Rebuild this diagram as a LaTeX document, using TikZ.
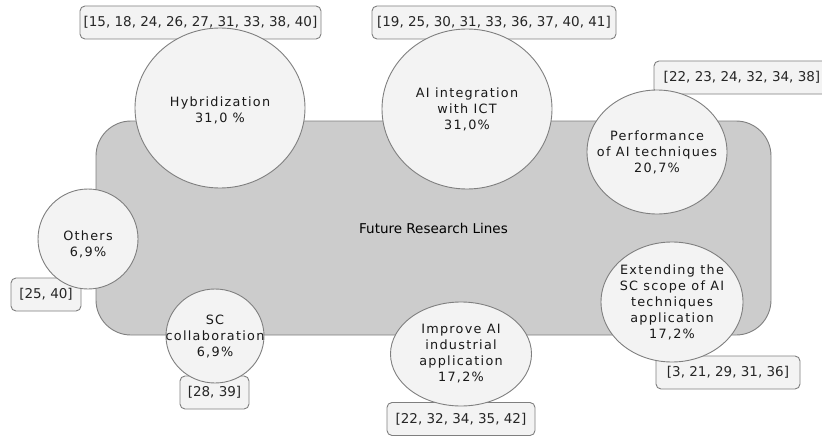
\documentclass[tikz,border=0pt]{standalone}
\usepackage{fontspec}
\setmainfont{DejaVu Sans}
\newfontfamily\circfont[LetterSpace=10]{DejaVu Sans}
\usetikzlibrary{shapes.geometric}
\definecolor{mainfill}{HTML}{CCCCCC}
\definecolor{linec}{HTML}{7F7F7F}
\definecolor{bubfill}{HTML}{F3F3F3}
\tikzset{
  mainbox/.style={draw=linec, fill=mainfill, rounded corners=35pt, line width=0.9pt,
    minimum width=675pt, minimum height=214pt, inner sep=0pt,
    font=\fontsize{13.5}{16}\selectfont},
  refbox/.style={draw=linec, fill=bubfill, rounded corners=5pt, line width=0.9pt,
    minimum height=33pt, inner sep=0pt, text=black!85,
    font=\fontsize{13.5}{16}\selectfont},
  bubble/.style={ellipse, draw=linec, fill=bubfill, line width=0.9pt, inner sep=0pt},
  btext/.style={align=center, inner sep=0pt, text=black!90,
    font=\circfont\fontsize{12.8}{16}\selectfont},
}
\begin{document}
\begin{tikzpicture}[x=1pt, y=-1pt]
\useasboundingbox (0,0) rectangle (822,436);
% main area
\node[mainbox] (main) at (433.5,228) {Future Research Lines};
% reference boxes
\node[refbox, minimum width=241pt] (hybL) at (200.5,22.5) {[15, 18, 24, 26, 27, 31, 33, 38, 40]};
\node[refbox, minimum width=244pt] (aiL) at (494,22.5) {[19, 25, 30, 31, 33, 36, 37, 40, 41]};
\node[refbox, minimum width=176pt] (perfL) at (742,77.5) {[22, 23, 24, 32, 34, 38]};
\node[refbox, minimum width=70pt] (othL) at (46,294.5) {[25, 40]};
\node[refbox, minimum width=69pt] (scL) at (214.5,392.5) {[28, 39]};
\node[refbox, minimum width=148pt] (impL) at (461,419) {[22, 32, 34, 35, 42]};
\node[refbox, minimum width=144pt] (extL) at (728,372.5) {[3, 21, 29, 31, 36]};
% bubbles
\node[bubble, minimum width=170pt, minimum height=160pt,
  label={[btext, yshift=-2pt]center:Hybridization\\31,0 \%}] (hyb) at (220,108) {};
\node[bubble, minimum width=170pt, minimum height=160pt,
  label={[btext]center:AI integration\\with ICT\\31,0\%}] (ai) at (467,109) {};
\node[bubble, minimum width=140pt, minimum height=124pt,
  label={[btext]center:Performance\\of AI techniques\\20,7\%}] (perf) at (657,152) {};
\node[bubble, minimum width=100pt, minimum height=100pt,
  label={[btext, yshift=-5pt]center:Others\\6,9\%}] (oth) at (88,239) {};
\node[bubble, minimum width=98pt, minimum height=94pt,
  label={[btext]center:SC\\collaboration\\6,9\%}] (sc) at (215,336) {};
\node[bubble, minimum width=141pt, minimum height=104pt,
  label={[btext]center:Improve AI\\industrial\\application\\17,2\%}] (imp) at (461,354) {};
\node[bubble, minimum width=142pt, minimum height=120pt,
  label={[btext]center:Extending the\\SC scope of AI\\techniques\\application\\17,2\%}] (ext) at (672,302) {};
\end{tikzpicture}
\end{document}
